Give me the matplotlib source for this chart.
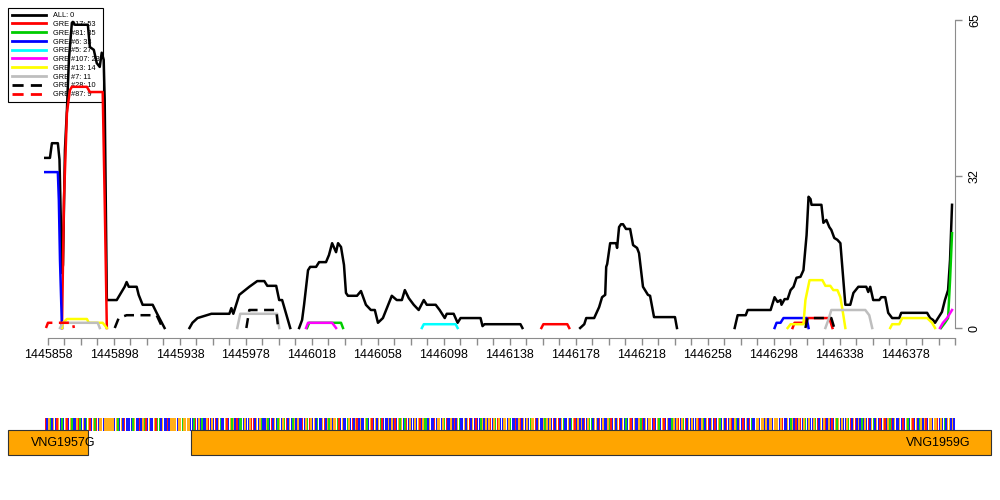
import numpy as np
import matplotlib
matplotlib.use('Agg')
import matplotlib.pyplot as plt
from matplotlib.patches import Rectangle

plt.rcParams['font.family'] = ['Liberation Sans', 'DejaVu Sans']

nan = np.nan
START = 1445858          # first labelled coordinate
END = 1446408            # right end of the plot

# --- binding profiles, x as offset (bp) from START, gaps = nan ---
all_x = [-1.8, 1.2, 2.4, 6.0, 7.0, 7.9, 8.5, 9.1, 10.3, 11.5, 12.7, 14.5, 15.1, 16.3, 24.2, 25.4, 27.8, 29.6,
         31.4, 32.6, 33.8, 34.4, 35.7, 41.7, 46.5, 47.7, 49.0, 53.8, 55.0, 57.4, 63.5, 65.9, 70.7, nan,
         85.8, 87.6, 90.7, 99.1, 110.0, 111.2, 112.4, 116.0, 122.1, 126.9, 131.2, 133.0, 138.4, 140.2, 142.0,
         146.9, nan,
         152.3, 154.1, 155.3, 157.7, 159.0, 162.6, 164.4, 168.6, 170.4, 172.3, 174.7, 175.9, 177.7, 179.5,
         180.7, 181.9, 187.4, 189.8, 192.8, 195.8, 198.2, 200.1, 203.1, 208.5, 211.5, 214.6, 216.4, 218.8,
         221.8, 224.8, 227.9, 229.7, 235.1, 237.5, 240.6, 241.8, 246.0, 248.4, 250.2, 262.3, 263.5, 264.7,
         286.5, 287.7, nan,
         322.7, 325.2, 326.4, 331.2, 334.2, 336.0, 337.9, 338.5, 339.1, 340.9, 344.5, 345.1, 346.3, 347.5,
         348.7, 350.5, 353.0, 354.8, 357.2, 358.4, 360.8, 363.8, 365.1, 367.5, 380.2, 381.4, nan,
         416.4, 418.2, 423.1, 424.3, 438.2, 440.6, 442.4, 444.2, 444.8, 446.7, 448.5, 450.3, 452.1, 453.9,
         456.3, 458.1, 460.0, 461.2, 462.4, 463.0, 469.0, 470.2, 472.0, 473.8, 475.0, 476.8, 478.7, 480.5,
         483.5, 486.5, 488.4, 491.4, 496.2, 497.4, 498.6, 500.4, 504.1, 505.3, 507.7, 509.5, 511.9, 516.2,
         517.4, 533.1, 534.9, 536.7, 537.9, 539.7, 542.1, 543.9, 545.8, 547.0, 548.2]
all_y = [35.9, 35.9, 39.0, 39.0, 35.5, 20.7, 11.6, 13.3, 37.6, 46.0, 56.6, 64.4, 64.6, 64.0, 64.0, 59.3, 58.7, 55.9,
         55.1, 58.1, 56.6, 48.1, 5.9, 5.9, 8.7, 9.7, 8.7, 8.7, 7.0, 4.9, 4.9, 3.2, 0.0, nan,
         0.0, 1.1, 2.1, 3.0, 3.0, 4.2, 3.0, 7.0, 8.7, 9.9, 9.9, 8.9, 8.9, 5.9, 5.9,
         0.0, nan,
         0.0, 1.7, 4.9, 12.2, 12.9, 12.9, 13.9, 13.9, 15.4, 17.9, 16.0, 17.9, 17.1, 13.3,
         7.4, 6.8, 6.8, 7.8, 4.9, 3.8, 3.8, 1.1, 2.1, 6.8, 5.9, 5.9, 8.0, 6.3,
         4.9, 3.8, 5.9, 4.9, 4.9, 3.8, 2.1, 3.0, 3.0, 1.1, 2.1, 2.1, 0.4, 0.8,
         0.8, 0.0, nan,
         0.0, 0.8, 2.1, 2.1, 4.4, 6.5, 7.0, 12.9, 13.5, 17.9, 17.9, 16.9, 21.3, 21.9,
         21.9, 20.9, 20.9, 17.5, 16.9, 15.8, 8.7, 7.0, 6.8, 2.3, 2.3, 0.0, nan,
         0.0, 2.7, 2.7, 3.8, 3.8, 6.5, 5.5, 5.9, 4.9, 6.1, 6.1, 8.0, 8.7, 10.6,
         10.8, 12.2, 19.6, 27.7, 27.2, 26.0, 26.0, 22.2, 22.8, 21.3, 20.7, 19.0, 18.6, 17.9,
         4.9, 4.9, 7.4, 8.7, 8.7, 7.6, 8.7, 5.9, 5.9, 6.5, 6.5, 3.2, 2.1, 2.1,
         3.2, 3.2, 2.1, 1.7, 1.1, 2.1, 3.4, 5.9, 8.0, 14.4, 26.0]

red_x = [8.5, 9.7, 11.5, 13.3, 14.5, 23.6, 25.4, 33.2, 34.4, 35.7, nan,
         299.2, 300.4, 314.9, 316.1, nan,
         451.5, 452.7, 458.7, 460.0, 473.8, 475.7]
red_y = [0.0, 27.0, 45.4, 50.2, 50.9, 50.9, 49.8, 49.8, 27.0, 0.0, nan,
         0.0, 0.8, 0.8, 0.0, nan,
         0.0, 1.1, 1.1, 2.1, 2.1, 0.0]

green_x = [157.1, 158.4, 177.7, 178.9, nan, 541.5, 543.9, 545.8, 547.0, 548.2]
green_y = [0.0, 1.1, 1.1, 0.0, nan, 0.0, 1.1, 2.1, 10.1, 20.0]

blue_x = [-1.8, 6.0, 6.6, 7.3, 8.5, nan, 440.6, 441.8, 444.2, 446.0, 460.0, 461.2]
blue_y = [32.9, 32.9, 27.0, 14.3, 0.0, nan, 0.0, 1.1, 1.1, 2.1, 2.1, 0.0]

cyan_x = [226.7, 227.9, 247.2, 248.4]
cyan_y = [0.0, 0.8, 0.8, 0.0]

magenta_x = [156.5, 157.7, 172.3, 174.7, nan, 540.9, 542.7, 545.2, 548.2]
magenta_y = [0.0, 1.1, 1.1, 0.0, nan, 0.0, 1.1, 2.1, 3.8]

yellow_x = [8.5, 9.1, 11.5, 23.6, 24.8, 33.2, 35.7, nan,
            448.5, 450.3, 458.1, 459.3, 461.8, 469.6, 471.4, 474.4, 476.2, 478.7, 480.5, 482.3, 483.5, nan,
            510.7, 511.9, 516.2, 518.0, 533.1, 536.1, 537.9]
yellow_y = [0.0, 1.1, 1.9, 1.9, 1.1, 1.1, 0.0, nan,
            0.0, 0.8, 0.8, 5.9, 10.1, 10.1, 8.9, 8.9, 8.0, 8.0, 6.5, 2.7, 0.0, nan,
            0.0, 0.8, 0.8, 2.1, 2.1, 1.1, 0.0]

gray_x = [7.3, 9.1, 30.2, 31.4, nan, 114.8, 116.6, 139.0, 140.2, nan,
          471.4, 473.2, 475.0, 495.6, 498.0, 499.8]
gray_y = [0.0, 1.1, 1.1, 0.0, nan, 0.0, 3.0, 3.0, 0.0, nan,
          0.0, 1.7, 3.8, 3.8, 2.7, 0.0]

blackdash_x = [40.5, 42.9, 47.7, 65.9, 69.5, nan, 120.3, 122.1, 138.4, 139.6, nan,
               459.3, 460.6, 475.0, 476.8]
blackdash_y = [0.0, 2.1, 2.7, 2.7, 0.0, nan, 0.0, 3.8, 3.8, 0.0, nan,
               0.0, 2.1, 2.1, 0.0]

reddash_x = [-1.2, 0.0, 15.1, 15.7]
reddash_y = [0.0, 1.1, 1.1, 0.0]

labels = ['ALL: 0', 'GRE #17: 53', 'GRE #81: 35', 'GRE #6: 33', 'GRE #5: 27', 'GRE #107: 23',
          'GRE #13: 14', 'GRE #7: 11', 'GRE #28: 10', 'GRE #87: 9']
colors = ['black', 'red', '#00cc00', 'blue', 'cyan', 'magenta', 'yellow', '#bebebe', 'black', 'red']
styles = ['-', '-', '-', '-', '-', '-', '-', '-', (0, (4, 2.6)), (0, (4, 2.6))]
series_x = [all_x, red_x, green_x, blue_x, cyan_x, magenta_x, yellow_x, gray_x, blackdash_x, reddash_x]
series_y = [all_y, red_y, green_y, blue_y, cyan_y, magenta_y, yellow_y, gray_y, blackdash_y, reddash_y]

y_ticks = [0, 32, 65]

# --- genes and sequence ---
gene_names = ['VNG1957G', 'VNG1959G']
gene_starts = [1445834, 1445945]
gene_ends = [1445882, 1446430]
gene_label_x = [1445867, 1446398]

sequence = ("TCGACGCTGCACGTCGACCGTACGCAGTCGATCGGCGGGGGGCGACGCTC"
            "CCCAGCCTCGATCGCCGTAACGCCTCGGGGCGGAGGGGCCATCGCACCGT"
            "CGCTCGACCGTCGAGCTCAACGCCGTTCGCGACCGACTCGCAGCGATCGC"
            "AGCGCCTCGATGCGCACCGTCGAGCGGATCGCCAGCTCGTCGCCGACGTC"
            "GCGATCCCGCGCTCGAGCATCGCCGCGTCGAACGCCTCGGCGATCCGCTC"
            "GACCGCGTCGCTCCAGCGCGTCGATGCCGGCGACCTCGTCGCGCAGGTCG"
            "CCGAGCGCTCGTCGACCGCAGTCGCGCTCGAACGGCTCGCCGATCGCGTC"
            "GCACGTCGCCGATCGCGGCTCGACGTCGCCAGCGTCGATCGCGCCGTCGA"
            "CGTCGCTCGACGCTCGTCGACGCTCGCTACCGGCGGCGCGGCGGGCGTCC"
            "GCAGCTCGTCGACGCCGATCGCGTCGCTCGAGCGCCGATCGTCGCACGCT"
            "CGACGCTCGTCGATCGCCGCTCGACGTCGCAGCGTCGGCGGTCGCACGGC"
            "GC")
seq_start = START - 2
base_colors = {'A': '#00d000', 'C': '#0000ff', 'G': '#ffa500', 'T': '#ff0000'}

fig = plt.figure(figsize=(10, 5), dpi=100)

# main profile panel
ax = fig.add_axes([0.044, 0.324, 0.911, 0.636])
for xs, ys, c, ls, lab in zip(series_x, series_y, colors, styles, labels):
    ax.plot(START + np.array(xs), ys, color=c, lw=1.8, ls=ls, label=lab, zorder=2)

ax.set_xlim(START - 2.4, END)
ax.set_ylim(-2.11, 65)
for side in ['top', 'left']:
    ax.spines[side].set_visible(False)
axis_gray = '#8c8c8c'
ax.spines['bottom'].set_bounds(START, END)
ax.spines['right'].set_bounds(0, 65)
ax.spines['bottom'].set_color(axis_gray)
ax.spines['right'].set_color(axis_gray)
ax.yaxis.tick_right()
ax.set_yticks(y_ticks)
ax.set_yticklabels([str(v) for v in y_ticks], rotation=90, va='center')
xt = np.arange(START, END + 1, 10)
ax.set_xticks(xt)
ax.set_xticklabels([str(v) if (v - START) % 40 == 0 else '' for v in xt])
ax.tick_params(axis='both', color=axis_gray, length=5, width=1, labelsize=9, labelcolor='black')
ax.tick_params(axis='x', pad=3)
ax.tick_params(axis='y', pad=5)

leg = ax.legend(loc='upper left', bbox_to_anchor=(0.008, 0.984), bbox_transform=fig.transFigure,
                fontsize=5.3, frameon=True, fancybox=False, edgecolor='black', framealpha=1,
                handlelength=4.6, handletextpad=0.9, labelspacing=0.22, borderpad=0.55, borderaxespad=0)
leg.get_frame().set_linewidth(0.8)
for h in leg.get_lines():
    h.set_linewidth(2.0)
leg.set_zorder(1)

# gene / sequence panel
gx = fig.add_axes([0.0, 0.06, 1.0, 0.12])
gx.set_xlim(START - 29.1, START + 577.3)
gx.set_ylim(0, 60)
gx.axis('off')

seq_colors = [base_colors[b] for b in sequence]
gx.bar(seq_start + np.arange(len(sequence)) + 0.5, 13, bottom=39, width=0.85,
       color=seq_colors, linewidth=0, alpha=0.9)

for s, e, name, lx in zip(gene_starts, gene_ends, gene_names, gene_label_x):
    gx.add_patch(Rectangle((s, 15), e - s, 25, facecolor='#ffa500', edgecolor='#333333', lw=0.8, zorder=3))
    gx.text(lx, 27.5, name, ha='center', va='center', fontsize=9, zorder=4)

fig.savefig('out.png', dpi=100)
